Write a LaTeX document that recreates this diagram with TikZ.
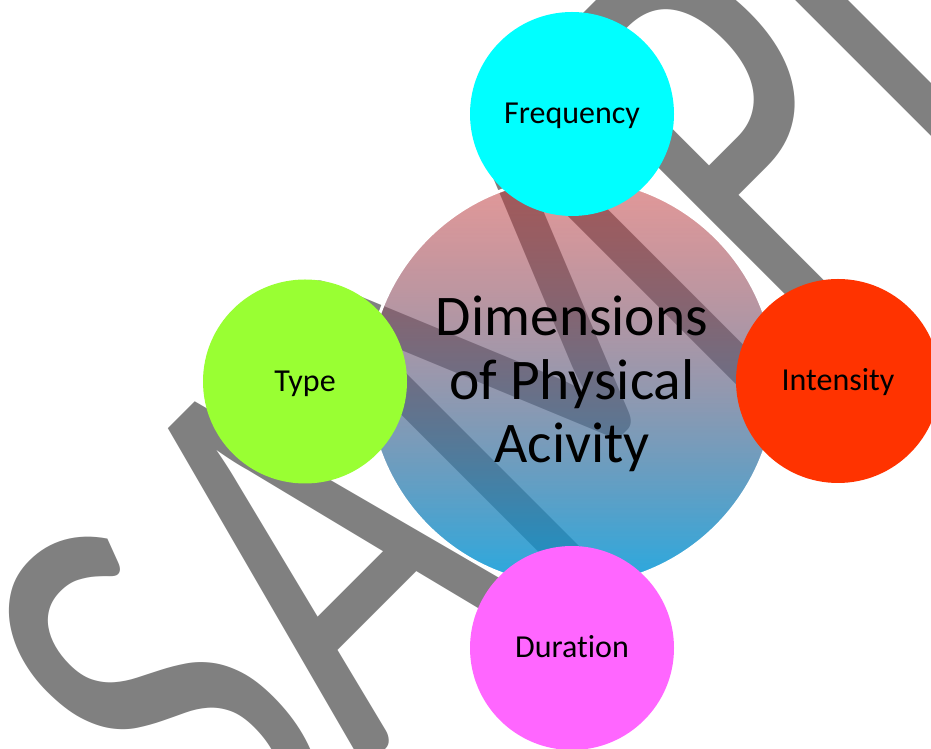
\documentclass[tikz,border=0pt]{standalone}
\usepackage{fontspec}
\setmainfont{Carlito}[Ligatures=NoCommon]
\usetikzlibrary{fadings}
\definecolor{freqcol}{RGB}{0, 255, 255}
\definecolor{typecol}{RGB}{153, 255, 51}
\definecolor{intenscol}{RGB}{255, 51, 0}
\definecolor{durcol}{RGB}{255, 102, 255}
\definecolor{centretop}{RGB}{200, 51, 51}
\definecolor{centrebot}{RGB}{0, 155, 220}
\definecolor{stamp}{RGB}{128, 128, 128}
\tikzfading[name=centrefade, top color=transparent!50, bottom color=transparent!15]

\begin{document}
\begin{tikzpicture}[x=1pt,y=1pt]
  \useasboundingbox (0,0) rectangle (931,749);
  \fill[white] (0,0) rectangle (931,749);
  \clip (0,0) rectangle (931,749);

  % watermark behind everything
  \begin{scope}[shift={(229.5,-156.5)},rotate=45,xscale=0.71]
    \node[anchor=base west,inner sep=0,transform shape,text=stamp,font=\fontsize{593}{600}\selectfont] (sample) at (0,0) {SAMPLE};
  \end{scope}

  % centre circle
  \coordinate (mid) at (572,367);
  \shade[top color=centretop,bottom color=centrebot,path fading=centrefade,fit fading=true] (mid) circle (204);
  \draw[white,line width=3] (mid) circle (204);
  \node[align=center,inner sep=0,font=\fontsize{57.5}{63.5}\selectfont] (centre) at (572,365) {Dimensions\\of Physical\\Acivity};

  \node[circle,fill=freqcol,minimum size=204,text height=22,text depth=2,font=\fontsize{32}{38}\selectfont] (freq) at (572,635) {Frequency};
  \node[circle,fill=typecol,minimum size=204,text height=22,text depth=2,font=\fontsize{32}{38}\selectfont] (type) at (305,367.5) {Type};
  \node[circle,fill=intenscol,minimum size=204,text height=22,text depth=2,font=\fontsize{32}{38}\selectfont] (intens) at (838,368) {Intensity};
  \node[circle,fill=durcol,minimum size=204,text height=22,text depth=2,font=\fontsize{32}{38}\selectfont] (dur) at (572,101) {Duration};
\end{tikzpicture}
\end{document}
